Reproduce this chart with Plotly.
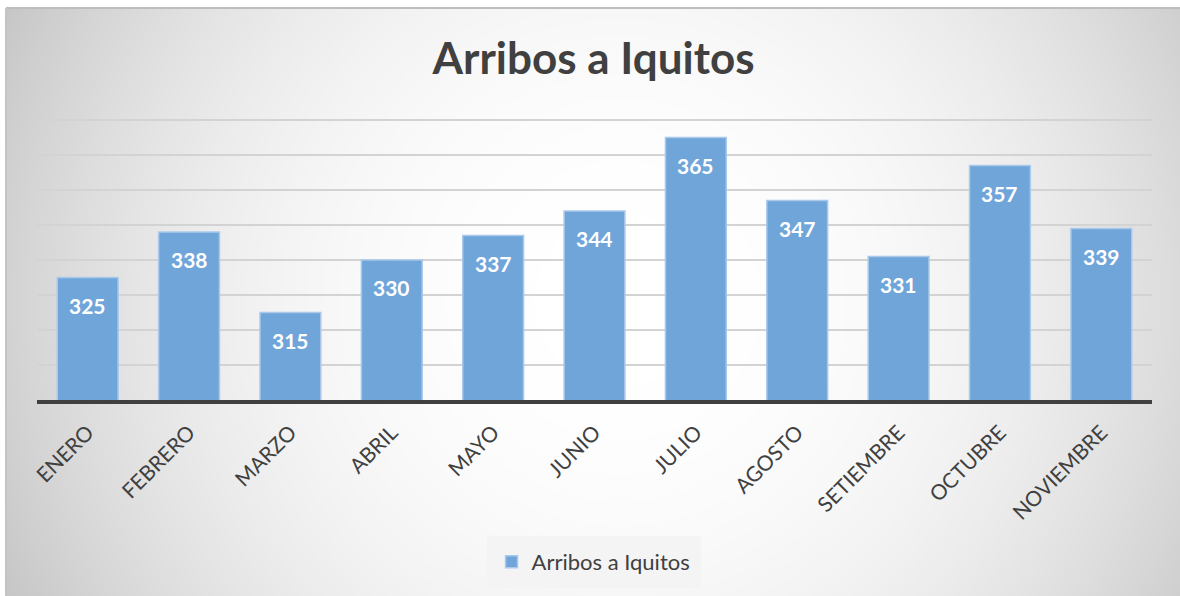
import numpy as np
import plotly.graph_objects as go

# Monthly arrivals to Iquitos
meses = ["ENERO", "FEBRERO", "MARZO", "ABRIL", "MAYO", "JUNIO", "JULIO",
         "AGOSTO", "SETIEMBRE", "OCTUBRE", "NOVIEMBRE"]
arribos = [325, 338, 315, 330, 337, 344, 365, 347, 331, 357, 339]
serie = "Arribos a Iquitos"

W, H = 1180, 596
FONT = "Lato"
TEXT = "#404040"
BAR = "#6fa5d9"

# Soft radial backdrop for the chart card (white centre, grey rim)
gx = np.linspace(0, 1174, 90)
gy = np.linspace(0, 589, 46)
X, Y = np.meshgrid(gx, gy)
r = np.sqrt((X - 614) ** 2 + (Y - 293) ** 2) / 680.0
shade = 1.0 - np.clip(r, 0, 1) ** 2.3

fig = go.Figure()
fig.add_trace(go.Heatmap(
    x=gx, y=gy, z=shade, zsmooth="best", zmin=0, zmax=1,
    colorscale=[[0, "#c6c6c6"], [1, "#ffffff"]],
    showscale=False, hoverinfo="skip", showlegend=False,
    xaxis="x", yaxis="y",
))

fig.add_trace(go.Bar(
    x=meses, y=arribos, name=serie,
    marker=dict(color=BAR, line=dict(color="#a9c9ea", width=1.5)),
    xaxis="x2", yaxis="y2", showlegend=True,
))

# value labels sit just under the top of each bar
for m, v in zip(meses, arribos):
    fig.add_annotation(
        x=m, y=v, xref="x2", yref="y2", text=f"<b>{v}</b>",
        showarrow=False, yshift=-28,
        font=dict(family=FONT, size=21, color="white"),
    )

# plot box: baseline at 400 px, 3.5 px per unit
y_lo, y_hi = 290, 370.6
x0, x1 = 37 / W, 1152 / W
y_base = 1 - 400 / H
y_top = 1 - (400 - (y_hi - y_lo) * 3.5) / H

fig.update_layout(
    width=W, height=H,
    margin=dict(l=0, r=0, t=0, b=0, pad=0, autoexpand=False),
    paper_bgcolor="white", plot_bgcolor="rgba(0,0,0,0)",
    bargap=0.4,
    title=dict(text="<b>Arribos a Iquitos</b>", x=0.503, xanchor="center",
               y=1 - 59 / H, yanchor="middle", yref="container",
               font=dict(family=FONT, size=44, color=TEXT)),
    xaxis=dict(domain=[6 / W, 1], range=[0, 1174], visible=False,
               fixedrange=True, automargin=False),
    yaxis=dict(domain=[0, 1 - 7 / H], range=[589, 0], visible=False,
               fixedrange=True, automargin=False),
    xaxis2=dict(domain=[x0, x1], anchor="y2", showgrid=False, automargin=False,
                showline=True, linecolor="#404040", linewidth=4,
                ticks="", tickangle=-45, ticklabelstandoff=8,
                tickfont=dict(family=FONT, size=21, color=TEXT)),
    yaxis2=dict(domain=[y_base, y_top], anchor="x2", range=[y_lo, y_hi],
                tick0=290, dtick=10, showgrid=True, gridcolor="#d3d3d3",
                gridwidth=2, showticklabels=False, zeroline=False, ticks="",
                automargin=False),
    legend=dict(orientation="h", x=0.503, xanchor="center",
                y=1 - 562 / H, yanchor="middle",
                bgcolor="#f4f4f4", bordercolor="#f4f4f4", borderwidth=5,
                font=dict(family=FONT, size=22, color=TEXT),
                itemwidth=30),
    shapes=[
        dict(type="line", xref="paper", yref="paper", x0=6 / W, x1=1,
             y0=1 - 8 / H, y1=1 - 8 / H, line=dict(color="#bdbdbd", width=2)),
        dict(type="line", xref="paper", yref="paper", x0=6 / W, x1=6 / W,
             y0=0, y1=1 - 8 / H, line=dict(color="#c4c4c4", width=2)),
    ],
)

fig.write_html("out.html")
